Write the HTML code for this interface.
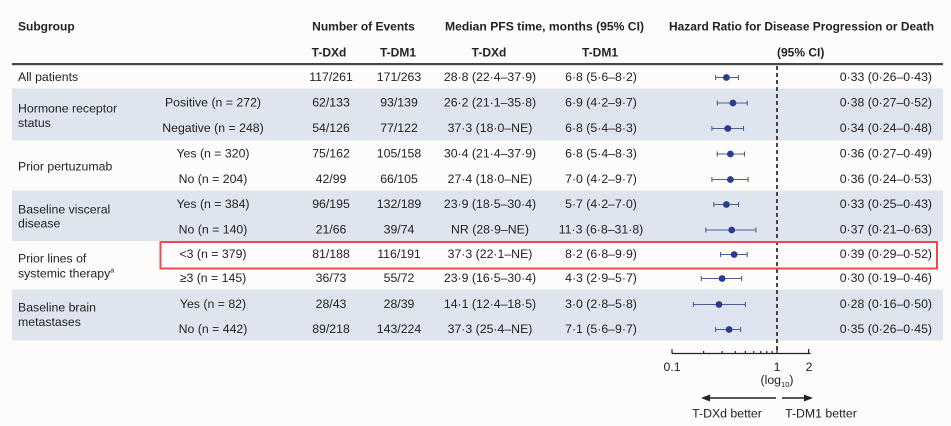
<!DOCTYPE html>
<html><head><meta charset="utf-8"><style>
html,body{margin:0;padding:0;background:#fdfcfa;}
svg{display:block;}
text{font-family:"Liberation Sans",Arial,sans-serif;fill:#222;}
.h{font-weight:bold;font-size:12px;}
.d{font-size:12.3px;}
</style></head><body>
<svg width="951" height="426" viewBox="0 0 951 426" xmlns="http://www.w3.org/2000/svg">
<rect x="0" y="0" width="951" height="426" fill="#fdfcfa"/>
<!-- bands -->
<rect x="12" y="88.5" width="931" height="52" fill="#dfe5ee"/>
<rect x="12" y="190.5" width="931" height="50.5" fill="#dfe5ee"/>
<rect x="12" y="289.5" width="931" height="51" fill="#dfe5ee"/>
<!-- header -->
<text class="h" x="18" y="30.5">Subgroup</text>
<text class="h" x="363.5" y="30.5" text-anchor="middle">Number of Events</text>
<text class="h" x="544.5" y="30.5" text-anchor="middle" textLength="199" lengthAdjust="spacingAndGlyphs">Median PFS time, months (95% CI)</text>
<text class="h" x="669" y="30.5" textLength="265" lengthAdjust="spacingAndGlyphs">Hazard Ratio for Disease Progression or Death</text>
<text class="h" x="329" y="56.5" text-anchor="middle">T-DXd</text>
<text class="h" x="398" y="56.5" text-anchor="middle">T-DM1</text>
<text class="h" x="489" y="56.5" text-anchor="middle">T-DXd</text>
<text class="h" x="600" y="56.5" text-anchor="middle">T-DM1</text>
<text class="h" x="777" y="56.5">(95% CI)</text>
<rect x="12" y="63" width="931" height="2.2" fill="#454545"/>
<!-- group labels -->
<g class="d">
<text class="d" x="18" y="80.8">All patients</text>
<text class="d" x="18" y="112.5">Hormone receptor</text>
<text class="d" x="18" y="127">status</text>
<text class="d" x="18" y="170.3">Prior pertuzumab</text>
<text class="d" x="18" y="213.6">Baseline visceral</text>
<text class="d" x="18" y="227.6">disease</text>
<text class="d" x="18" y="262.6">Prior lines of</text>
<text class="d" x="18" y="277.6">systemic therapy<tspan font-size="7" dy="-5">a</tspan></text>
<text class="d" x="18" y="311.6">Baseline brain</text>
<text class="d" x="18" y="326">metastases</text>
</g>
<!-- subcategory -->
<g text-anchor="middle">
<text class="d" x="213" y="106.3">Positive (n = 272)</text>
<text class="d" x="213" y="131.8">Negative (n = 248)</text>
<text class="d" x="213" y="157.3">Yes (n = 320)</text>
<text class="d" x="213" y="182.8">No (n = 204)</text>
<text class="d" x="213" y="207.8">Yes (n = 384)</text>
<text class="d" x="213" y="233.3">No (n = 140)</text>
<text class="d" x="213" y="257.8">&lt;3 (n = 379)</text>
<text class="d" x="213" y="281.8">≥3 (n = 145)</text>
<text class="d" x="213" y="307.8">Yes (n = 82)</text>
<text class="d" x="213" y="332.8">No (n = 442)</text>
</g>
<!-- events T-DXd -->
<g text-anchor="middle">
<text class="d" x="331" y="80.8">117/261</text>
<text class="d" x="331" y="106.3">62/133</text>
<text class="d" x="331" y="131.8">54/126</text>
<text class="d" x="331" y="157.3">75/162</text>
<text class="d" x="331" y="182.8">42/99</text>
<text class="d" x="331" y="207.8">96/195</text>
<text class="d" x="331" y="233.3">21/66</text>
<text class="d" x="331" y="257.8">81/188</text>
<text class="d" x="331" y="281.8">36/73</text>
<text class="d" x="331" y="307.8">28/43</text>
<text class="d" x="331" y="332.8">89/218</text>
</g>
<g text-anchor="middle">
<text class="d" x="399" y="80.8">171/263</text>
<text class="d" x="399" y="106.3">93/139</text>
<text class="d" x="399" y="131.8">77/122</text>
<text class="d" x="399" y="157.3">105/158</text>
<text class="d" x="399" y="182.8">66/105</text>
<text class="d" x="399" y="207.8">132/189</text>
<text class="d" x="399" y="233.3">39/74</text>
<text class="d" x="399" y="257.8">116/191</text>
<text class="d" x="399" y="281.8">55/72</text>
<text class="d" x="399" y="307.8">28/39</text>
<text class="d" x="399" y="332.8">143/224</text>
</g>
<!-- median T-DXd -->
<g text-anchor="middle">
<text class="d" x="490" y="80.8">28·8 (22·4–37·9)</text>
<text class="d" x="490" y="106.3">26·2 (21·1–35·8)</text>
<text class="d" x="490" y="131.8">37·3 (18·0–NE)</text>
<text class="d" x="490" y="157.3">30·4 (21·4–37·9)</text>
<text class="d" x="490" y="182.8">27·4 (18·0–NE)</text>
<text class="d" x="490" y="207.8">23·9 (18·5–30·4)</text>
<text class="d" x="490" y="233.3">NR (28·9–NE)</text>
<text class="d" x="490" y="257.8">37·3 (22·1–NE)</text>
<text class="d" x="490" y="281.8">23·9 (16·5–30·4)</text>
<text class="d" x="490" y="307.8">14·1 (12·4–18·5)</text>
<text class="d" x="490" y="332.8">37·3 (25·4–NE)</text>
</g>
<g text-anchor="middle">
<text class="d" x="601" y="80.8">6·8 (5·6–8·2)</text>
<text class="d" x="601" y="106.3">6·9 (4·2–9·7)</text>
<text class="d" x="601" y="131.8">6·8 (5·4–8·3)</text>
<text class="d" x="601" y="157.3">6·8 (5·4–8·3)</text>
<text class="d" x="601" y="182.8">7·0 (4·2–9·7)</text>
<text class="d" x="601" y="207.8">5·7 (4·2–7·0)</text>
<text class="d" x="601" y="233.3">11·3 (6·8–31·8)</text>
<text class="d" x="601" y="257.8">8·2 (6·8–9·9)</text>
<text class="d" x="601" y="281.8">4·3 (2·9–5·7)</text>
<text class="d" x="601" y="307.8">3·0 (2·8–5·8)</text>
<text class="d" x="601" y="332.8">7·1 (5·6–9·7)</text>
</g>
<!-- HR -->
<g text-anchor="end">
<text class="d" x="932" y="80.8">0·33 (0·26–0·43)</text>
<text class="d" x="932" y="106.3">0·38 (0·27–0·52)</text>
<text class="d" x="932" y="131.8">0·34 (0·24–0·48)</text>
<text class="d" x="932" y="157.3">0·36 (0·27–0·49)</text>
<text class="d" x="932" y="182.8">0·36 (0·24–0·53)</text>
<text class="d" x="932" y="207.8">0·33 (0·25–0·43)</text>
<text class="d" x="932" y="233.3">0·37 (0·21–0·63)</text>
<text class="d" x="932" y="257.8">0·39 (0·29–0·52)</text>
<text class="d" x="932" y="281.8">0·30 (0·19–0·46)</text>
<text class="d" x="932" y="307.8">0·28 (0·16–0·50)</text>
<text class="d" x="932" y="332.8">0·35 (0·26–0·45)</text>
</g>
<!-- dashed reference line -->
<line x1="777" y1="66" x2="777" y2="352" stroke="#333" stroke-width="1.8" stroke-dasharray="4,3"/>
<!-- forest CIs -->
<g stroke="#4d5d98" stroke-width="1.1" fill="none">
<path d="M715.6 77.5H738.5M715.6 75V80M738.5 75V80"/>
<path d="M717.3 103H747.2M717.3 100.5V105.5M747.2 100.5V105.5"/>
<path d="M711.9 128.5H743.5M711.9 126V131M743.5 126V131"/>
<path d="M717.3 154H744.5M717.3 151.5V156.5M744.5 151.5V156.5"/>
<path d="M711.9 179.5H748.1M711.9 177V182M748.1 177V182"/>
<path d="M713.8 204.5H738.5M713.8 202V207M738.5 202V207"/>
<path d="M705.8 230H755.9M705.8 227.5V232.5M755.9 227.5V232.5"/>
<path d="M720.6 254.5H747.2M720.6 252V257M747.2 252V257"/>
<path d="M701.3 278.5H741.6M701.3 276V281M741.6 276V281"/>
<path d="M693.4 304.5H745.4M693.4 302V307M745.4 302V307"/>
<path d="M715.6 329.5H740.6M715.6 327V332M740.6 327V332"/>
</g>
<g fill="#2a3d8c">
<circle cx="726.4" cy="77.5" r="3.4"/>
<circle cx="732.9" cy="103" r="3.4"/>
<circle cx="727.8" cy="128.5" r="3.4"/>
<circle cx="730.4" cy="154" r="3.4"/>
<circle cx="730.4" cy="179.5" r="3.4"/>
<circle cx="726.4" cy="204.5" r="3.4"/>
<circle cx="731.7" cy="230" r="3.4"/>
<circle cx="734.1" cy="254.5" r="3.4"/>
<circle cx="722.1" cy="278.5" r="3.4"/>
<circle cx="719.0" cy="304.5" r="3.4"/>
<circle cx="729.1" cy="329.5" r="3.4"/>
</g>
<!-- red highlight box -->
<rect x="160.5" y="242" width="776.5" height="26.5" fill="none" stroke="#ee4a4e" stroke-width="2"/>
<!-- axis -->
<g stroke="#222" stroke-width="1.2">
<line x1="672" y1="353.5" x2="810.6" y2="353.5"/>
<line x1="672" y1="349" x2="672" y2="353.5"/>
<line x1="777" y1="349" x2="777" y2="353.5"/>
<line x1="808.6" y1="349" x2="808.6" y2="353.5"/>
<line x1="703.6" y1="351" x2="703.6" y2="353.5"/>
<line x1="722.1" y1="351" x2="722.1" y2="353.5"/>
<line x1="735.2" y1="351" x2="735.2" y2="353.5"/>
<line x1="745.4" y1="351" x2="745.4" y2="353.5"/>
<line x1="753.7" y1="351" x2="753.7" y2="353.5"/>
<line x1="760.7" y1="351" x2="760.7" y2="353.5"/>
<line x1="766.8" y1="351" x2="766.8" y2="353.5"/>
<line x1="772.2" y1="351" x2="772.2" y2="353.5"/>
</g>
<text class="d" x="672" y="371" text-anchor="middle">0.1</text>
<text class="d" x="777" y="371" text-anchor="middle">1</text>
<text class="d" x="809" y="371" text-anchor="middle">2</text>
<text class="d" x="777" y="384" text-anchor="middle">(log<tspan font-size="7.5" dy="3">10</tspan><tspan dy="-3">)</tspan></text>
<!-- arrows -->
<line x1="708" y1="398" x2="776" y2="398" stroke="#222" stroke-width="1.4"/>
<polygon points="701,398 710,394.5 710,401.5" fill="#222"/>
<line x1="782" y1="398" x2="806" y2="398" stroke="#222" stroke-width="1.4"/>
<polygon points="813,398 804,394.5 804,401.5" fill="#222"/>
<text class="d" x="727" y="417.5" text-anchor="middle">T-DXd better</text>
<text class="d" x="821" y="417.5" text-anchor="middle">T-DM1 better</text>
</svg>
</body></html>
